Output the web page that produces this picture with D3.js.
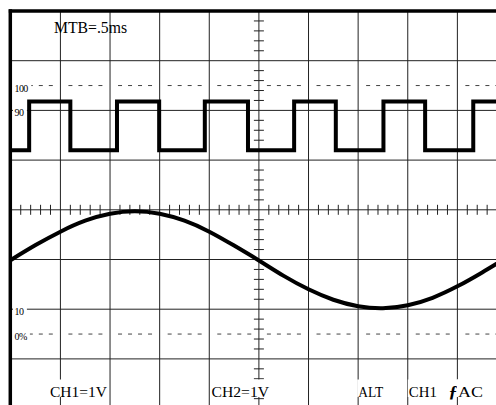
<!DOCTYPE html>
<html>
<head>
<meta charset="utf-8">
<script src="https://cdn.jsdelivr.net/npm/d3@7"></script>
<style>
body { margin: 0; background: #fff; }
svg { display: block; }
text { font-family: "Liberation Serif", "DejaVu Serif", serif; fill: #000; }
</style>
</head>
<body>
<script>
var w = 496;
var h = 405;

// screen measured in divisions: 10 across, 8 high (right/bottom edges cut off)
var xDivs = [0, 1, 2, 3, 4, 5, 6, 7, 8, 9, 10];
var yDivs = [-4, -3, -2, -1, 0, 1, 2, 3, 4];
var dashLevels = [2.5, -2.5];                 // 100% and 0% reference
var levelLabels = ["100", "90", "10", "0%"];
var levelValues = [2.5, 2, -2, -2.5];

// CH1 : square wave (levels in div, edge times in div)
var sqLow = 1.2;
var sqHigh = 2.18;
var riseTimes = [0.37, 2.14, 3.91, 5.71, 7.51, 9.32];
var fallTimes = [1.2, 2.99, 4.78, 6.55, 8.35];

// CH2 : sine, read every half division
var sineTimes = [0, 0.5, 1, 1.5, 2, 2.5, 3, 3.5, 4, 4.5, 5,
    5.5, 6, 6.5, 7, 7.5, 8, 8.5, 9, 9.5, 10];
var sineValues = [-1.01, -0.71, -0.44, -0.22, -0.08, -0.03, -0.08, -0.22, -0.44, -0.72, -1.02,
    -1.33, -1.60, -1.81, -1.94, -1.98, -1.92, -1.77, -1.54, -1.26, -0.96];

var topLabel = "MTB=.5ms";
var bottomLabels = ["CH1=1V", "CH2=1V", "ALT", "CH1", "\u0192", "AC"];

var x = d3.scaleLinear().domain([0, 10]).range([10.8, 507]);
var y = d3.scaleLinear().domain([-4, 4]).range([408.6, 11]);

var svg = d3.select("body")
    .append("svg")
    .attr("width", w)
    .attr("height", h);

svg.append("rect")
    .attr("width", w)
    .attr("height", h)
    .attr("fill", "#fff");

// grid
svg.selectAll("line.vgrid")
    .data(xDivs.slice(1))
    .enter()
    .append("line")
    .attr("class", "vgrid")
    .attr("x1", function(d){ return x(d); })
    .attr("x2", function(d){ return x(d); })
    .attr("y1", y(4))
    .attr("y2", y(-4))
    .attr("stroke", "#222")
    .attr("stroke-width", 1);

svg.selectAll("line.hgrid")
    .data(yDivs.slice(0, -1))
    .enter()
    .append("line")
    .attr("class", "hgrid")
    .attr("x1", x(0))
    .attr("x2", x(10))
    .attr("y1", function(d){ return y(d); })
    .attr("y2", function(d){ return y(d); })
    .attr("stroke", "#222")
    .attr("stroke-width", 1);

// minor ticks on the centre axes, 5 per division
var minorX = d3.range(1, 50).filter(function(i){ return i % 5 != 0; }).map(function(i){ return i / 5; });
var minorY = d3.range(-19, 20).filter(function(i){ return i % 5 != 0; }).map(function(i){ return i / 5; });

svg.selectAll("line.tx")
    .data(minorX)
    .enter()
    .append("line")
    .attr("class", "tx")
    .attr("x1", function(d){ return x(d); })
    .attr("x2", function(d){ return x(d); })
    .attr("y1", y(0) - 5)
    .attr("y2", y(0) + 5)
    .attr("stroke", "#222");

svg.selectAll("line.ty")
    .data(minorY)
    .enter()
    .append("line")
    .attr("class", "ty")
    .attr("x1", x(5) - 5)
    .attr("x2", x(5) + 5)
    .attr("y1", function(d){ return y(d); })
    .attr("y2", function(d){ return y(d); })
    .attr("stroke", "#222");

// dotted 100% / 0% lines, one short run per division
dashLevels.forEach(function(lv){
    svg.selectAll(null)
        .data(xDivs.slice(0, -1))
        .enter()
        .append("line")
        .attr("x1", function(d){ return x(d) + 8; })
        .attr("x2", function(d){ return x(d) + 42; })
        .attr("y1", y(lv))
        .attr("y2", y(lv))
        .attr("stroke", "#444")
        .attr("stroke-dasharray", "4,6");
});

// level labels on small white patches
var lab = svg.selectAll("g.lvl")
    .data(levelLabels)
    .enter()
    .append("g")
    .attr("class", "lvl");
lab.append("rect")
    .attr("fill", "#fff");
lab.append("text")
    .text(function(d){ return d; })
    .attr("x", 14.5)
    .attr("y", function(d, i){ return y(levelValues[i]) + 6; })
    .attr("font-size", "10px")
    .attr("letter-spacing", "-0.6px");
lab.each(function(){
    var g = d3.select(this);
    var bb = g.select("text").node().getBBox();
    g.select("rect")
        .attr("x", 13)
        .attr("y", bb.y)
        .attr("width", bb.x + bb.width - 13 + 3)
        .attr("height", bb.height);
});

// traces
var sqPts = [[0, sqLow]];
var edges = riseTimes.map(function(t){ return [t, sqHigh]; })
    .concat(fallTimes.map(function(t){ return [t, sqLow]; }))
    .sort(function(a, b){ return a[0] - b[0]; });
var lvl = sqLow;
edges.forEach(function(e){
    sqPts.push([e[0], lvl]);
    sqPts.push([e[0], e[1]]);
    lvl = e[1];
});
sqPts.push([10, lvl]);

var line = d3.line()
    .x(function(d){ return x(d[0]); })
    .y(function(d){ return y(d[1]); });

svg.append("path")
    .attr("d", line(sqPts))
    .attr("fill", "none")
    .attr("stroke", "#000")
    .attr("stroke-width", 4)
    .attr("stroke-linejoin", "miter");

var sinePts = sineTimes.map(function(t, i){ return [t, sineValues[i]]; });
svg.append("path")
    .attr("d", line.curve(d3.curveNatural)(sinePts))
    .attr("fill", "none")
    .attr("stroke", "#000")
    .attr("stroke-width", 4);

// screen border (top and left edges visible)
svg.append("line")
    .attr("x1", x(0) - 2).attr("x2", w)
    .attr("y1", y(4)).attr("y2", y(4))
    .attr("stroke", "#000").attr("stroke-width", 3.5);
svg.append("line")
    .attr("x1", x(0) - 0.5).attr("x2", x(0) - 0.5)
    .attr("y1", y(4) - 1.75).attr("y2", h)
    .attr("stroke", "#000").attr("stroke-width", 3.5);

// readouts
svg.append("text")
    .text(topLabel)
    .attr("x", 54)
    .attr("y", 33)
    .attr("font-size", "16px")
    .attr("textLength", 73)
    .attr("lengthAdjust", "spacingAndGlyphs");

var bottomLayout = [
    {x: 50, len: 57},
    {x: 211.5, len: 57.5},
    {x: 358.2, len: 25},
    {x: 408.8, len: 28},
    {x: 448.5, len: 9},
    {x: 458, len: 25}
];

var bl = svg.selectAll("g.bl")
    .data(bottomLabels)
    .enter()
    .append("g")
    .attr("class", "bl");
bl.append("rect")
    .attr("x", function(d, i){ return bottomLayout[i].x - 1; })
    .attr("y", 379.5)
    .attr("width", function(d, i){ return bottomLayout[i].len + 2; })
    .attr("height", 17.5)
    .attr("fill", "#fff");
bl.append("text")
    .text(function(d){ return d; })
    .attr("x", function(d, i){ return bottomLayout[i].x; })
    .attr("y", 396.5)
    .attr("font-size", function(d){ return d == "\u0192" ? "17px" : "15.5px"; })
    .attr("font-weight", function(d){ return d == "\u0192" ? "bold" : "normal"; })
    .attr("font-style", function(d){ return d == "\u0192" ? "italic" : "normal"; })
    .attr("textLength", function(d, i){ return bottomLayout[i].len; })
    .attr("lengthAdjust", "spacingAndGlyphs");
</script>
</body>
</html>
